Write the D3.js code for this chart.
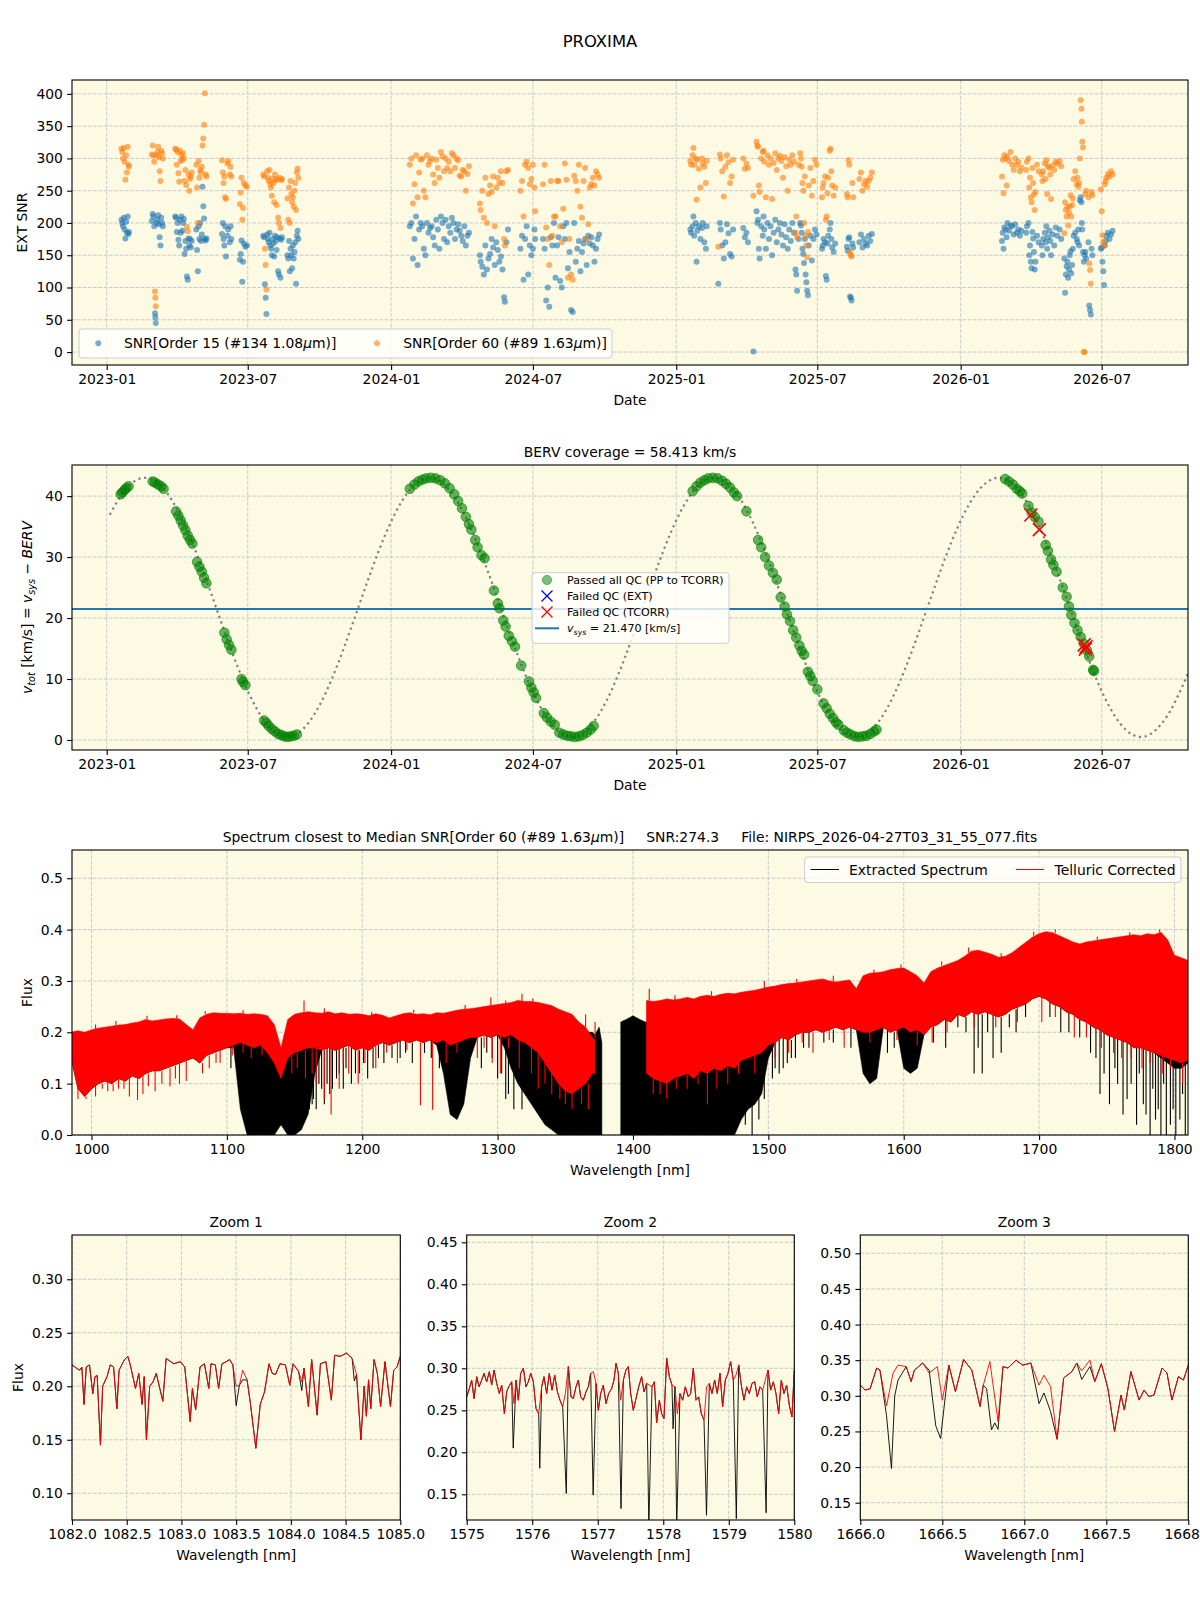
<!DOCTYPE html>
<html><head><meta charset="utf-8">
<script src="https://cdn.jsdelivr.net/npm/d3@7"></script>
<style>
body{margin:0;background:#fff}
svg text{font-family:"DejaVu Sans",sans-serif}
</style></head>
<body><svg id="c" width="1200" height="1600"></svg>
<script>
// ---------------- DATA ----------------
// dates are day offsets from 2023-01-01 (UTC)
const EPOCH = Date.UTC(2023,0,1);
const dateTickLabels = ["2023-01","2023-07","2024-01","2024-07","2025-01","2025-07","2026-01","2026-07"];
const snrTicks = [0,50,100,150,200,250,300,350,400];
const vtotTicks = [0,10,20,30,40];
const fluxTicks = [0.0,0.1,0.2,0.3,0.4,0.5];
const wlTicks = [1000,1100,1200,1300,1400,1500,1600,1700,1800];

// [day, SNR order 15, SNR order 60]
const snr2023 = [
[19,205,315],[20,200,310],[21,195,300],[22,208,316],[23,190,295],[24,176,267],[25,202,305],[26,185,278],[27,210,318],[28,183,290],[28.5,186,287],
[58,203,306],[59,214,320],[60,210,305],[61,195,295],[62,60,94],[62.5,54,84],[63,45,71],[64,200,305],[65,205,310],[66,212,318],[67,198,302],[68,178,280],[69,165,265],[70,208,312],[71,200,308],[72,195,300],
[88,210,315],[89,208,314],[90,186,290],[91,200,310],[92,174,277],[93,165,264],[94,205,312],[95,185,296],[96,210,305],[97,188,298],[98,200,308],[99,206,300],[100,152,265],[101,172,282],[102,160,259],[103,117,194],[104,112,187],[105,176,275],[106,165,250],[107,175,268],[108,162,272],[109,172,278],
[115,190,290],[116,158,255],[117,125,200],[118,195,296],[119,175,270],[120,200,282],[121,172,278],[122,182,287],[123,256,320],[124,226,331],[125,207,352],[126,175,401],[127,173,275],[128,176,272],
[148,183,297],[149,200,278],[150,175,262],[151,165,272],[152,195,240],[153,148,237],[155,180,292],[156,190,296],[158,170,275],[159,195,287],[160,175,272],
[171,143,229],[172,152,247],[173,173,270],[174,109,205],[175,140,223],[176,168,262],[178,163,258],[180,165,256],
[201,180,275],[202,178,272],[203,105,160],[204,84,135],[205,59,97],[206,182,280],[207,175,270],[208,170,265],[209,185,282],[210,165,260],[211,160,255],[212,150,242],[213,175,268],[214,168,262],[215,148,232],[216,180,275],[217,172,266],[218,158,228],
[219,178,268],[220,125,208],[221,120,200],[222,176,270],[223,115,192],[224,174,266],[225,178,268],
[232,150,238],[233,145,205],[234,172,255],[235,125,200],[236,160,265],[237,150,245],[238,130,232],[239,165,240],[240,145,225],[241,155,250],[242,170,262],[243,106,220],[244,180,278],[245,188,284],[246,175,270]
];
const snr2024 = [
[389,195,290],[391,200,300],[393,145,230],[395,175,260],[397,210,305],[399,135,240],[401,190,278],[403,200,298],[405,195,300],[407,160,250],
[409,150,240],[411,200,305],[413,185,290],[415,192,296],[417,195,300],[419,178,275],[421,165,262],[423,205,298],[425,190,285],[427,160,270],
[429,210,310],[431,200,303],[433,175,280],[435,205,300],[437,170,285],[439,195,295],[441,185,280],[443,208,308],[445,200,305],[447,175,285],
[449,190,300],[451,198,297],[453,188,273],[455,180,272],[457,172,282],[459,195,280],[461,165,250],[463,180,276],[465,185,288],
[479,150,230],[480,140,220],[482,132,250],[484,120,208],[486,165,270],[488,128,200],[490,145,245],[492,152,258],[494,175,248],[496,162,272],
[498,135,195],[500,170,255],[502,158,270],[504,140,262],[506,148,280],[508,128,262],[510,85,175],[511,78,165],[513,170,280],[515,190,282],
[531,160,250],[533,180,265],[535,112,210],[537,175,290],[539,195,295],[541,120,285],[543,165,260],[545,150,268],[547,160,290],[549,190,255],[550,175,218],
[560,175,260],[562,160,290],[564,80,193],[566,100,175],[568,70,135],[570,178,265],[572,165,180],[574,200,210],[576,115,210],[578,165,265],
[580,178,265],[582,110,195],[584,100,170],[586,195,222],[588,175,292],[590,200,267],[592,130,115],[594,155,175],[596,65,120],[598,62,112],
[600,200,273],[602,140,265],[604,160,250],[606,172,290],[608,125,225],[610,155,208],[612,168,265],[614,175,285],[616,135,175],[618,180,198],
[620,168,255],[622,178,260],[624,165,270],[626,140,258],[628,160,280],[630,175,275],[632,182,270]
];
const snr2025 = [
[749,190,296],[750,185,290],[752,195,305],[753,210,316],[754,180,290],[756,200,300],[757,140,236],[758,188,298],[760,195,284],[762,175,255],[764,192,300],[765,200,292],[767,170,287],[769,160,262],[770,195,296],
[785,106,163],[787,200,306],[788,190,300],[790,165,280],[792,145,241],[794,170,287],[796,198,305],[798,184,294],[800,152,262],[802,148,272],[804,190,298],
[817,192,300],[819,178,284],[821,185,292],[823,170,285],[830,1,242],
[834,218,326],[835,200,320],[836,205,318],[837,160,258],[838,145,248],[840,195,300],[842,180,310],[843,210,312],[844,190,295],[846,160,240],[848,200,305],[850,175,290],[852,195,300],[854,150,237],[856,185,293],[858,205,308],[860,170,282],[862,190,300],[864,200,304],[866,182,296],[868,165,270],[870,198,302],[872,178,288],[874,160,250],[876,190,298],[878,172,290],[880,200,305],[882,185,295],[884,128,185],[885,120,210],[886,95,178],[888,175,290],[890,200,308],
[891,196,300],[892,185,287],[893,160,262],[894,152,250],[895,138,200],[896,175,272],[897,120,180],[898,108,165],[899,95,147],[900,88,186],[901,165,258],[903,180,285],[905,142,242],[907,175,265],[909,190,298],[911,182,290],
[918,160,240],[919,165,255],[920,175,262],[922,170,272],[923,118,205],[924,112,210],[925,168,246],[926,180,270],[928,190,312],[929,200,315],[930,175,280],[931,162,258],[933,155,242],[935,168,255],
[950,163,245],[951,157,240],[952,175,297],[953,178,290],[954,86,155],[955,84,150],[956,80,148],[957,168,262],[958,162,240],
[966,170,268],[968,182,278],[970,162,250],[972,175,260],[974,168,265],[976,165,256],[978,180,265],[980,172,270],[982,183,278]
];
const snr2026 = [
[1149,172,272],[1150,185,298],[1151,160,246],[1152,193,305],[1154,190,300],[1155,178,258],[1156,200,303],[1158,188,296],[1160,196,310],[1162,195,290],[1164,182,282],[1166,198,300],[1168,185,290],[1170,190,295],[1172,180,280],[1174,188,286],
[1180,185,282],[1181,195,295],[1183,200,300],[1184,150,255],[1185,165,270],[1186,140,240],[1187,130,232],[1188,186,285],[1189,176,262],[1190,155,244],[1191,128,220],[1192,140,248],[1194,180,290],[1196,170,280],
[1200,165,275],[1201,150,265],[1202,175,280],[1204,185,292],[1205,170,268],[1206,195,297],[1207,160,245],[1208,178,288],[1210,188,285],[1211,172,275],[1212,150,237],[1214,182,289],[1216,165,282],[1218,193,295],[1220,180,292],[1223,190,296],[1225,175,288],
[1229,145,184],[1230,92,232],[1231,120,220],[1232,133,210],[1233,140,225],[1234,115,196],[1235,128,216],[1236,150,225],[1237,156,243],[1238,122,210],[1239,135,228],[1240,160,238],[1241,180,268],[1243,185,280],[1245,175,260],[1246,170,270],[1247,190,256],[1248,165,262],
[1249,235,300],[1250,240,390],[1251,232,377],[1251.5,200,357],[1252,190,326],[1253,155,317],[1254,140,0],[1255,150,0],[1256,155,245],[1257,145,250],
[1260,170,240],[1261,72,137],[1262,65,127],[1263,58,106],[1264,160,248],[1265,150,243],
[1276,160,252],[1277,162,218],[1278,140,181],[1279,125,170],[1280,104,165],[1281,165,260],[1282,172,265],[1283,180,270],[1285,185,276],[1287,175,272],[1289,182,280],[1291,188,275]
];

// BERV curve (dotted), [day, v_tot km/s]
const bervCurve = [
[4,36.95],[19,40.23],[34,42.30],[49,43.00],[64,42.30],[79,40.23],[94,36.95],[109,32.65],[124,27.63],[139,22.23],[154,16.79],[169,11.69],[184,7.24],[199,3.76],[214,1.47],[229,0.52],[244,0.98],[259,2.81],[274,5.90],[289,10.04],[304,14.95],[319,20.31],[334,25.77],[349,30.96],[364,35.54],[379,39.21],[394,41.72],[409,42.91],
[424,42.70],[439,41.10],[454,38.23],[469,34.25],[484,29.46],[499,24.15],[514,18.68],[529,13.42],[544,8.70],[559,4.86],[574,2.13],[589,0.70],[604,0.66],[619,2.02],[634,4.68],[649,8.47],[664,13.16],[679,18.40],[694,23.87],[709,29.20],[724,34.03],[739,38.06],[754,40.99],[769,42.65],[784,42.94],
[799,41.82],[814,39.37],[829,35.75],[844,31.21],[859,26.04],[874,20.59],[889,15.21],[904,10.27],[919,6.08],[934,2.94],[949,1.04],[964,0.51],[979,1.39],[994,3.62],[1009,7.04],[1024,11.44],[1039,16.52],[1054,21.95],[1069,27.37],[1084,32.41],[1099,36.75],[1114,40.10],[1129,42.22],[1144,43.00],
[1159,42.36],[1174,40.37],[1189,37.14],[1204,32.89],[1219,27.90],[1234,22.51],[1249,17.06],[1264,11.93],[1279,7.44],[1294,3.91],[1309,1.55],[1324,0.54],[1339,0.92],[1354,2.69],[1369,5.72],[1384,9.80],[1388,11.04]
];
// observations passing QC, [day, v_tot]
const bervPassed = [
[18,40.3],[20,40.6],[23,41.0],[25,41.3],[28,41.6],
[59,42.4],[62,42.2],[66,41.9],[70,41.6],[73,41.2],
[89,37.5],[92,36.8],[95,36.0],[98,35.2],[101,34.4],[104,33.5],[107,32.8],[110,32.2],
[116,29.2],[119,28.4],[122,27.6],[125,26.6],[128,25.7],
[151,17.6],[154,16.5],[157,15.6],[160,14.8],
[173,10.0],[175,9.5],[178,9.0],
[202,3.2],[205,2.8],[208,2.3],[212,1.8],[216,1.4],[220,1.0],[224,0.8],[228,0.6],[232,0.5],[236,0.6],[240,0.7],[244,0.9],
[389,41.2],[395,41.9],[400,42.4],[405,42.7],[410,42.9],[416,43.0],[422,42.9],[428,42.6],[434,42.1],[440,41.3],[446,40.3],[451,39.2],[456,38.0],[461,36.6],[465,35.4],[468,34.5],
[473,32.8],[476,31.6],[481,30.3],[485,29.8],[497,24.5],
[502,22.4],[504,21.6],[509,19.6],[512,18.6],[516,17.1],[520,16.2],[524,15.3],[532,12.2],
[542,9.6],[545,8.6],[548,7.8],[551,6.9],
[561,4.4],[565,3.7],[570,3.0],[575,2.5],
[581,1.2],[586,0.9],[591,0.7],[596,0.6],[601,0.5],[606,0.6],[611,0.8],[616,1.2],[621,1.7],[625,2.3],
[752,40.8],[757,41.6],[762,42.2],[767,42.6],[772,42.9],[778,43.0],[784,42.9],[790,42.5],[795,42.0],[800,41.4],[805,40.6],[809,40.0],[821,37.5],
[836,32.8],[840,31.6],[845,30.0],[850,28.6],[855,27.4],[860,26.3],[865,23.4],
[870,21.9],[873,20.6],[877,19.5],[881,18.0],[885,16.8],[889,15.5],[892,14.6],[895,14.0],
[900,11.2],[903,10.5],[906,9.7],[912,8.3],
[920,6.0],[924,5.2],[928,4.3],[932,3.6],[936,2.9],[939,2.5],
[946,1.6],[950,1.2],[955,0.9],[960,0.6],[965,0.5],[970,0.6],[975,0.7],[980,1.0],[985,1.4],[988,1.7],
[1153,42.8],[1158,42.4],[1163,41.9],[1168,41.2],[1172,40.8],[1175,40.4],
[1183,38.4],[1187,37.3],[1191,36.6],[1196,35.8],
[1205,32.0],[1208,31.0],[1212,29.6],[1215,28.7],[1219,27.6],
[1227,25.0],[1232,23.5],
[1235,21.9],[1238,20.5],[1242,19.2],[1246,18.0],[1250,16.9],[1254,15.8],[1258,14.7],[1261,13.7],
[1266,11.5],[1267,11.3]
];
const bervFailedTcorr = [[1186,36.9],[1197,34.5],[1254.5,15.6],[1256,14.9],[1257,15.3]];
const bervFailedExt = [];
const vsys = 21.470;
const bervCoverage = 58.413;

// Full spectrum envelope: [wavelength nm, telluricHi, telluricLo, extractedHi, extractedLo]
const spectrumEnvelope = [
[985,.200,.150,.195,.150],[990,.203,.090,.198,.090],[995,.200,.075,.195,.075],[1000,.205,.090,.200,.090],[1005,.208,.100,.203,.100],
[1010,.210,.105,.205,.105],[1015,.212,.100,.207,.100],[1020,.214,.110,.209,.110],[1025,.215,.105,.210,.105],[1030,.218,.115,.213,.115],
[1035,.220,.110,.215,.110],[1040,.225,.120,.220,.120],[1045,.222,.125,.217,.125],[1050,.224,.125,.219,.125],[1055,.226,.130,.221,.130],
[1060,.227,.135,.222,.135],[1065,.226,.140,.221,.140],[1070,.215,.145,.210,.145],[1075,.205,.150,.200,.150],[1080,.228,.140,.223,.140],
[1085,.235,.155,.230,.155],[1090,.238,.160,.233,.160],[1095,.237,.165,.232,.165],[1100,.237,.170,.232,.170],[1105,.236,.175,.231,.170],
[1110,.237,.180,.200,.050],[1115,.235,.175,.190,.000],[1120,.236,.170,.190,.000],[1125,.235,.175,.190,.000],[1130,.232,.160,.185,.000],
[1135,.215,.140,.180,.000],[1140,.170,.110,.160,.020],[1145,.225,.150,.200,.000],[1150,.235,.160,.205,.000],[1155,.238,.165,.205,.010],
[1160,.240,.170,.205,.040],[1165,.238,.170,.200,.120],[1170,.237,.165,.200,.165],[1175,.240,.170,.200,.170],[1180,.236,.165,.200,.165],
[1185,.238,.170,.200,.170],[1190,.235,.175,.200,.175],[1195,.236,.165,.200,.165],[1200,.235,.170,.200,.170],[1205,.232,.165,.200,.165],
[1210,.236,.175,.200,.175],[1215,.233,.180,.200,.180],[1220,.228,.175,.200,.175],[1225,.232,.180,.200,.180],[1230,.236,.185,.205,.185],
[1235,.238,.180,.205,.180],[1240,.235,.185,.205,.185],[1245,.236,.180,.205,.180],[1250,.234,.185,.205,.185],[1255,.238,.180,.205,.175],
[1260,.237,.185,.205,.120],[1265,.240,.175,.205,.040],[1270,.243,.180,.205,.030],[1275,.245,.185,.210,.060],[1280,.246,.190,.210,.150],
[1285,.248,.190,.215,.190],[1290,.250,.195,.215,.195],[1295,.252,.190,.220,.190],[1300,.254,.195,.220,.195],[1305,.256,.190,.220,.170],
[1310,.258,.195,.225,.130],[1315,.262,.185,.225,.100],[1320,.260,.180,.225,.080],[1325,.260,.170,.225,.060],[1330,.258,.160,.220,.040],
[1335,.255,.140,.220,.020],[1340,.252,.120,.215,.010],[1345,.245,.100,.215,.000],[1350,.240,.085,.210,.000],[1355,.235,.080,.210,.000],
[1360,.220,.090,.205,.000],[1365,.210,.100,.200,.000],[1370,.190,.120,.200,.000],[1372,.185,.120,.195,.000],
[1375,null,null,.210,.000],[1377,null,null,.180,.000],[1384,null,null,null,null],[1391,null,null,.220,.000],[1395,null,null,.225,.000],
[1400,null,null,.232,.000],[1405,null,null,.225,.000],[1409,null,null,.220,.000],
[1410,.262,.120,.220,.000],[1415,.260,.110,.220,.000],[1420,.262,.105,.220,.000],[1425,.265,.100,.225,.000],[1430,.263,.110,.225,.000],
[1435,.265,.115,.225,.000],[1440,.268,.120,.230,.000],[1445,.265,.110,.230,.000],[1450,.270,.125,.230,.000],[1455,.272,.120,.230,.000],
[1460,.270,.130,.235,.000],[1465,.274,.125,.235,.000],[1470,.276,.135,.235,.000],[1475,.275,.130,.240,.000],[1480,.278,.145,.240,.030],
[1485,.280,.150,.240,.050],[1490,.282,.155,.245,.060],[1495,.285,.160,.245,.080],[1500,.288,.175,.250,.150],[1505,.290,.180,.250,.180],
[1510,.293,.190,.255,.190],[1515,.295,.185,.255,.185],[1520,.296,.195,.260,.195],[1525,.298,.200,.260,.200],[1530,.300,.200,.260,.200],
[1535,.302,.205,.265,.205],[1540,.304,.200,.265,.200],[1545,.300,.205,.265,.205],[1550,.298,.210,.265,.210],[1555,.300,.205,.265,.205],
[1560,.302,.210,.265,.210],[1565,.285,.205,.260,.205],[1570,.310,.200,.260,.120],[1575,.315,.200,.265,.100],[1580,.316,.205,.265,.110],
[1585,.318,.210,.270,.210],[1590,.322,.200,.270,.200],[1595,.324,.205,.275,.205],[1600,.325,.210,.275,.130],[1605,.318,.200,.275,.120],
[1610,.310,.205,.270,.130],[1615,.296,.195,.265,.195],[1620,.318,.210,.270,.210],[1625,.325,.215,.275,.215],[1630,.330,.225,.280,.225],
[1635,.335,.220,.285,.220],[1640,.340,.235,.290,.235],[1645,.348,.230,.295,.230],[1650,.358,.240,.300,.240],[1655,.360,.235,.300,.235],
[1660,.356,.240,.300,.240],[1665,.352,.235,.300,.235],[1670,.346,.230,.300,.230],[1675,.348,.235,.300,.235],[1680,.355,.245,.305,.245],
[1685,.365,.250,.310,.250],[1690,.375,.255,.320,.255],[1695,.385,.265,.330,.265],[1700,.392,.270,.340,.270],[1705,.396,.265,.340,.265],
[1710,.394,.255,.335,.255],[1715,.388,.250,.330,.250],[1720,.382,.240,.325,.240],[1725,.376,.235,.320,.235],[1730,.372,.225,.315,.225],
[1735,.376,.220,.315,.220],[1740,.378,.210,.315,.210],[1745,.380,.205,.315,.205],[1750,.382,.195,.315,.195],[1755,.384,.190,.315,.190],
[1760,.386,.185,.315,.185],[1765,.388,.180,.315,.180],[1770,.390,.170,.315,.170],[1775,.388,.170,.315,.170],[1780,.392,.165,.315,.165],
[1785,.390,.160,.315,.160],[1790,.395,.155,.315,.150],[1795,.380,.150,.310,.140],[1800,.350,.145,.300,.130],[1805,.345,.140,.295,.130],
[1810,.340,.145,.290,.140]
];
// individual spikes [wavelength, from, to]
const telluricSpikes = [
[1003,.10,.075],[1012,.105,.085],[1020,.11,.09],[1028,.11,.075],[1034,.11,.068],[1038,.12,.08],[1047,.125,.085],[1052,.125,.10],[1058,.13,.095],
[1065,.14,.10],[1070,.145,.105],[1087,.155,.13],[1095,.165,.14],[1148,.155,.12],[1158,.165,.11],[1166,.17,.10],[1172,.165,.07],[1177,.17,.04],
[1183,.17,.09],[1190,.175,.12],[1197,.165,.10],[1210,.175,.13],[1226,.18,.14],[1243,.18,.058],[1252,.185,.049],[1262,.18,.14],[1285,.19,.15],
[1296,.19,.14],[1302,.195,.12],[1316,.185,.13],[1330,.16,.09],[1340,.12,.08],[1355,.08,.05],[1362,.09,.06],[1367,.10,.05],[1415,.11,.08],
[1425,.10,.07],[1440,.12,.09],[1455,.12,.06],[1462,.13,.09],[1470,.135,.10],[1490,.155,.12],[1515,.185,.16],[1533,.2,.16],[1556,.205,.17],
[1621,.21,.18],[1702,.27,.22],[1726,.235,.19],[1746,.205,.17],[1761,.185,.15],[1776,.17,.13],[1791,.155,.12],[1806,.14,.10],
[990,.09,.07],[996,.075,.07],[1008,.10,.09],[1016,.10,.085],[1024,.105,.09],[1042,.12,.095],[1062,.135,.11],[1082,.14,.12],[1092,.16,.14],
[1104,.175,.155],[1112,.18,.16],[1118,.175,.15],[1126,.175,.155],[1152,.16,.13],[1163,.17,.12],[1186,.17,.14],[1202,.17,.14],[1218,.18,.16],
[1233,.185,.165],[1270,.18,.16],[1290,.195,.17],[1308,.19,.17],[1325,.17,.12],[1335,.14,.10],[1346,.10,.07],[1350,.085,.06],[1420,.105,.08],
[1432,.11,.09],[1448,.12,.10],[1478,.14,.12],[1505,.18,.15],[1525,.2,.18],[1545,.205,.185],[1575,.2,.18],[1595,.205,.185],[1610,.205,.175],
[1632,.225,.2],[1652,.24,.21],[1668,.235,.21],[1684,.25,.22],[1712,.255,.23],[1735,.22,.19],[1755,.19,.16],[1768,.175,.15],[1782,.165,.14],[1797,.15,.13],
[1157,.24,.262],[1295,.252,.268],[1318,.26,.275],[1372,.19,.22],[1365,.21,.235],[1412,.262,.285],[1497,.285,.30],
[1003,.205,.215],[1018,.214,.222],[1041,.225,.232],[1063,.227,.233],[1084,.235,.241],[1112,.237,.243],[1172,.238,.247],[1207,.232,.24],
[1238,.238,.244],[1276,.245,.253],[1306,.256,.262],[1326,.26,.266],[1431,.263,.272],[1458,.272,.28],[1521,.296,.304],[1548,.3,.31],
[1578,.315,.322],[1598,.324,.332],[1628,.33,.338],[1648,.355,.365],[1672,.346,.354],[1696,.388,.396],[1712,.394,.40],[1743,.38,.386],
[1767,.388,.395],[1789,.395,.40]
];
const extractedSpikes = [
[1103,.175,.13],[1163,.17,.06],[1168,.17,.10],[1176,.17,.08],[1181,.165,.11],[1186,.17,.09],[1192,.175,.10],[1198,.165,.12],[1204,.165,.11],
[1216,.18,.14],[1228,.185,.15],[1237,.18,.14],[1257,.18,.13],[1288,.19,.13],[1300,.195,.11],[1306,.19,.07],[1312,.19,.05],[1318,.185,.05],
[1483,.15,.02],[1488,.155,.0],[1493,.16,.03],[1497,.16,.07],[1503,.18,.11],[1511,.19,.13],[1517,.185,.15],[1526,.2,.17],[1541,.2,.18],
[1561,.21,.17],[1588,.21,.16],[1631,.225,.17],[1646,.23,.2],[1652,.24,.12],[1658,.235,.12],[1666,.235,.15],[1672,.23,.16],[1683,.245,.2],
[1716,.25,.2],[1738,.22,.16],[1748,.2,.12],[1752,.195,.06],[1758,.19,.10],[1762,.185,.04],[1768,.18,.10],[1772,.17,.02],[1777,.17,.06],
[1782,.165,.0],[1786,.16,.03],[1790,.155,.0],[1794,.15,.0],[1797,.15,.02],[1801,.145,.0],[1804,.14,.03],[1808,.145,.0],
[1161,.17,.05],[1164,.17,.07],[1166,.17,.05],[1170,.165,.09],[1172,.165,.06],[1174,.17,.10],[1178,.17,.09],[1183,.17,.12],[1188,.17,.13],
[1195,.165,.12],[1201,.17,.14],[1208,.17,.13],[1212,.175,.15],[1222,.175,.15],[1232,.185,.16],[1246,.18,.16],[1251,.185,.15],[1292,.195,.16],
[1296,.19,.15],[1303,.195,.12],[1308,.19,.08],[1505,.18,.13],[1508,.185,.12],[1514,.185,.14],[1520,.195,.15],[1530,.2,.17],[1548,.205,.18],
[1593,.2,.17],[1622,.21,.18],[1640,.235,.21],[1655,.235,.17],[1662,.24,.2],[1678,.235,.21],[1690,.255,.23],[1708,.26,.23],[1722,.24,.2],
[1730,.225,.19],[1742,.21,.15],[1745,.205,.08],[1756,.19,.13],[1765,.18,.07],[1774,.17,.12],[1779,.165,.04],[1784,.16,.09],[1788,.16,.05],
[1792,.155,.10],[1799,.145,.05],[1806,.14,.08]
];

// Zoom 1 (telluric corrected) [wl, flux]
const zoom1Telluric = [
[1082.00,.220],[1082.04,.217],[1082.07,.215],[1082.09,.218],[1082.11,.183],[1082.13,.218],[1082.16,.220],[1082.19,.193],[1082.21,.209],[1082.23,.210],
[1082.26,.145],[1082.28,.200],[1082.32,.209],[1082.35,.220],[1082.38,.218],[1082.41,.179],[1082.43,.215],[1082.48,.225],[1082.51,.228],[1082.53,.221],
[1082.55,.212],[1082.58,.198],[1082.61,.212],[1082.64,.183],[1082.66,.209],[1082.68,.150],[1082.71,.200],[1082.74,.204],[1082.77,.212],[1082.83,.186],
[1082.86,.226],[1082.93,.221],[1082.99,.223],[1083.03,.218],[1083.08,.167],[1083.10,.198],[1083.13,.178],[1083.17,.218],[1083.21,.221],[1083.25,.198],
[1083.27,.221],[1083.31,.220],[1083.34,.198],[1083.37,.221],[1083.41,.223],[1083.44,.225],[1083.47,.220],[1083.50,.200],[1083.53,.201],[1083.56,.215],
[1083.60,.206],[1083.63,.184],[1083.68,.142],[1083.72,.183],[1083.76,.195],[1083.80,.221],[1083.83,.212],[1083.86,.211],[1083.90,.221],[1083.95,.220],
[1083.99,.201],[1084.02,.221],[1084.07,.214],[1084.10,.204],[1084.12,.217],[1084.16,.181],[1084.19,.225],[1084.24,.173],[1084.27,.221],[1084.32,.223],
[1084.37,.187],[1084.40,.229],[1084.45,.228],[1084.51,.231],[1084.56,.226],[1084.60,.211],[1084.64,.150],[1084.67,.200],[1084.69,.172],[1084.71,.206],
[1084.73,.179],[1084.76,.225],[1084.79,.212],[1084.82,.181],[1084.86,.223],[1084.91,.181],[1084.94,.215],[1084.97,.218],[1085.00,.228]
];
const zoom1ExtractedDiff = [[1083.50,.182],[1083.56,.206],[1084.10,.196],[1084.58,.205]];

const zoom2Telluric = [
[1575.000,.266],[1575.041,.276],[1575.076,.286],[1575.112,.264],[1575.153,.290],[1575.188,.278],[1575.229,.286],[1575.264,.294],[1575.305,.284],[1575.346,.296],
[1575.381,.280],[1575.417,.298],[1575.458,.282],[1575.498,.270],[1575.534,.280],[1575.575,.246],[1575.610,.272],[1575.641,.278],[1575.687,.284],[1575.722,.258],
[1575.753,.286],[1575.788,.262],[1575.824,.294],[1575.865,.300],[1575.905,.278],[1575.941,.284],[1575.977,.294],[1576.017,.284],[1576.058,.252],[1576.099,.246],
[1576.144,.278],[1576.180,.290],[1576.221,.270],[1576.261,.294],[1576.302,.274],[1576.343,.292],[1576.384,.272],[1576.424,.262],[1576.465,.254],[1576.506,.270],
[1576.551,.302],[1576.592,.266],[1576.628,.264],[1576.668,.278],[1576.704,.286],[1576.740,.266],[1576.780,.262],[1576.821,.272],[1576.857,.278],[1576.892,.294],
[1576.933,.296],[1576.974,.282],[1577.009,.250],[1577.045,.270],[1577.085,.280],[1577.126,.258],[1577.167,.270],[1577.213,.276],[1577.248,.286],[1577.279,.306],
[1577.314,.294],[1577.350,.262],[1577.391,.286],[1577.431,.298],[1577.467,.302],[1577.503,.270],[1577.543,.250],[1577.584,.264],[1577.625,.278],[1577.670,.290],
[1577.706,.272],[1577.747,.282],[1577.787,.280],[1577.828,.278],[1577.864,.284],[1577.899,.235],[1577.940,.262],[1577.976,.246],[1578.011,.240],[1578.052,.312],
[1578.093,.290],[1578.133,.280],[1578.179,.278],[1578.215,.246],[1578.255,.270],[1578.296,.262],[1578.337,.278],[1578.382,.266],[1578.418,.270],[1578.459,.300],
[1578.500,.262],[1578.540,.266],[1578.581,.246],[1578.622,.238],[1578.662,.278],[1578.703,.282],[1578.744,.270],[1578.784,.286],[1578.825,.270],[1578.866,.294],
[1578.906,.254],[1578.947,.286],[1578.988,.294],[1579.028,.308],[1579.069,.286],[1579.110,.292],[1579.151,.304],[1579.191,.280],[1579.232,.262],[1579.273,.278],
[1579.313,.270],[1579.354,.282],[1579.395,.284],[1579.435,.266],[1579.476,.278],[1579.517,.274],[1579.557,.286],[1579.598,.298],[1579.639,.274],[1579.680,.284],
[1579.720,.270],[1579.761,.246],[1579.802,.286],[1579.842,.270],[1579.883,.280],[1579.924,.256],[1579.964,.242],[1580.000,.298]
];
const zoom2ExtractedDiff = [[1575.710,.205],[1576.115,.181],[1576.520,.151],[1576.930,.149],[1577.355,.133],[1577.780,.110],[1578.205,.110],[1578.660,.125],[1579.115,.121],[1579.570,.128],[1578.150,.228]];

const zoom3Telluric = [
[1666.00,.315],[1666.03,.308],[1666.06,.310],[1666.10,.339],[1666.12,.336],[1666.16,.286],[1666.20,.332],[1666.23,.343],[1666.28,.341],[1666.31,.320],
[1666.33,.336],[1666.38,.346],[1666.42,.332],[1666.47,.341],[1666.50,.294],[1666.54,.343],[1666.58,.306],[1666.63,.351],[1666.68,.336],[1666.73,.285],
[1666.75,.315],[1666.79,.348],[1666.84,.264],[1666.87,.341],[1666.90,.339],[1666.95,.350],[1666.99,.343],[1667.04,.346],[1667.09,.315],[1667.12,.329],
[1667.16,.313],[1667.20,.239],[1667.24,.325],[1667.29,.334],[1667.32,.346],[1667.35,.335],[1667.40,.350],[1667.43,.320],[1667.47,.345],[1667.51,.310],
[1667.55,.250],[1667.59,.301],[1667.61,.280],[1667.65,.334],[1667.70,.294],[1667.73,.308],[1667.76,.299],[1667.79,.301],[1667.84,.339],[1667.87,.332],
[1667.90,.294],[1667.94,.327],[1667.97,.322],[1668.00,.343]
];
const zoom3ExtractedDiff = [[1666.16,.272],[1666.19,.198],[1666.21,.300],[1666.23,.322],[1666.42,.336],[1666.46,.258],[1666.49,.240],[1666.50,.262],
[1666.77,.310],[1666.80,.252],[1666.82,.262],[1666.84,.253],[1667.09,.289],[1667.12,.304],[1667.16,.278],[1667.35,.323],[1667.40,.341]];

const zoom1XTicks = [1082.0,1082.5,1083.0,1083.5,1084.0,1084.5,1085.0];
const zoom1YTicks = [0.10,0.15,0.20,0.25,0.30];
const zoom2XTicks = [1575,1576,1577,1578,1579,1580];
const zoom2YTicks = [0.15,0.20,0.25,0.30,0.35,0.40,0.45];
const zoom3XTicks = [1666.0,1666.5,1667.0,1667.5,1668.0];
const zoom3YTicks = [0.15,0.20,0.25,0.30,0.35,0.40,0.45,0.50];

// ---------------- DRAWING ----------------
const svg = d3.select("#c");
const BG = "#fcfae2";
const FS = 13.9;
const BLUE = "#1f77b4", ORANGE = "#ff7f0e";
const dayDate = d => new Date(EPOCH + d*864e5);
const parseTick = d3.utcParse("%Y-%m");
const dateTicks = dateTickLabels.map(parseTick);
const fmtDate = d3.utcFormat("%Y-%m");
let clipN = 0;
const defs = svg.append("defs");

function axes(box, x, y, xt, yt, xf, yf){
  const g = svg.append("g");
  g.append("rect").attr("x",box.l).attr("y",box.t).attr("width",box.r-box.l).attr("height",box.b-box.t).attr("fill",BG);
  const grid = g.append("g").attr("stroke","#c4c4cc").attr("stroke-width",0.9).attr("stroke-dasharray","3.7,1.6").attr("fill","none");
  xt.forEach(t=>{const px=x(t); if(px>=box.l-0.5&&px<=box.r+0.5) grid.append("line").attr("x1",px).attr("x2",px).attr("y1",box.t).attr("y2",box.b);});
  yt.forEach(t=>{const py=y(t); if(py>=box.t-0.5&&py<=box.b+0.5) grid.append("line").attr("y1",py).attr("y2",py).attr("x1",box.l).attr("x2",box.r);});
  const cid = "clip"+(clipN++);
  defs.append("clipPath").attr("id",cid).append("rect").attr("x",box.l).attr("y",box.t).attr("width",box.r-box.l).attr("height",box.b-box.t);
  const plot = svg.append("g").attr("clip-path",`url(#${cid})`);
  function finish(){
    const ax = svg.append("g").attr("transform",`translate(0,${box.b})`)
      .call(d3.axisBottom(x).tickValues(xt).tickFormat(xf).tickSize(4.9).tickPadding(4.2));
    const ay = svg.append("g").attr("transform",`translate(${box.l},0)`)
      .call(d3.axisLeft(y).tickValues(yt).tickFormat(yf).tickSize(4.9).tickPadding(4.2));
    [ax,ay].forEach(a=>{
      a.attr("font-size",FS).attr("font-family","DejaVu Sans");
      a.select(".domain").remove();
      a.selectAll(".tick line").attr("stroke","#000").attr("stroke-width",1.1);
      a.selectAll(".tick text").attr("fill","#000");
    });
    svg.append("rect").attr("x",box.l).attr("y",box.t).attr("width",box.r-box.l).attr("height",box.b-box.t)
      .attr("fill","none").attr("stroke","#000").attr("stroke-width",1.1);
  }
  return {plot, finish};
}
function text(x,y,s,opt={}){
  const t = svg.append("text").attr("x",x).attr("y",y).attr("font-size",opt.size||FS)
    .attr("text-anchor",opt.anchor||"middle").attr("fill","#000").text(s);
  if(opt.rotate) t.attr("transform",`rotate(-90,${x},${y})`);
  return t;
}

// Title
text(600,46.5,"PROXIMA",{size:16.4});

// ---------- Panel 1: SNR ----------
const P1 = {l:72,r:1188,t:80,b:365};
const xT1 = d3.scaleUtc().domain([dayDate(-44.53), dayDate(1387.75)]).range([P1.l,P1.r]);
const y1 = d3.scaleLinear().domain([-20.07,421.5]).range([P1.b,P1.t]);
const a1 = axes(P1,xT1,y1,dateTicks,snrTicks,fmtDate,d3.format("d"));
const allSnr = snr2023.concat(snr2024,snr2025,snr2026);
const MR = 3.0, MO = 0.6;
a1.plot.append("g").selectAll("circle").data(allSnr).join("circle")
  .attr("cx",d=>xT1(dayDate(d[0]))).attr("cy",d=>y1(d[1])).attr("r",MR).attr("fill",BLUE).attr("fill-opacity",MO);
a1.plot.append("g").selectAll("circle").data(allSnr).join("circle")
  .attr("cx",d=>xT1(dayDate(d[0]))).attr("cy",d=>y1(d[2])).attr("r",MR).attr("fill",ORANGE).attr("fill-opacity",MO);
a1.finish();
text(21.7,222.5,"EXT SNR",{rotate:true}).attr("dy","0.35em");
text(630,405,"Date");
// legend 1
svg.append("rect").attr("x",79).attr("y",329).attr("width",533).attr("height",29).attr("rx",3)
  .attr("fill","#fff").attr("fill-opacity",0.8).attr("stroke","#ccc").attr("stroke-width",1);
svg.append("circle").attr("cx",98.3).attr("cy",343.3).attr("r",MR).attr("fill",BLUE).attr("fill-opacity",MO);
svg.append("circle").attr("cx",377).attr("cy",343.3).attr("r",MR).attr("fill",ORANGE).attr("fill-opacity",MO);
function snrLabel(x,s1,s2){
  const t = text(x,348.3,"",{anchor:"start"});
  t.append("tspan").text(s1);
  t.append("tspan").attr("font-style","italic").text("μ");
  t.append("tspan").text(s2);
}
snrLabel(124,"SNR[Order 15 (#134 1.08","m)]");
snrLabel(403.3,"SNR[Order 60 (#89 1.63","m)]");

// ---------- Panel 2: BERV ----------
const P2 = {l:72,r:1188,t:465,b:750};
const y2 = d3.scaleLinear().domain([-1.64,45.1]).range([P2.b,P2.t]);
const a2 = axes(P2,xT1,y2,dateTicks,vtotTicks,fmtDate,d3.format("d"));
a2.plot.append("path").datum(bervCurve)
  .attr("d",d3.line().curve(d3.curveNatural).x(d=>xT1(dayDate(d[0]))).y(d=>y2(d[1])))
  .attr("fill","none").attr("stroke","#808080").attr("stroke-width",2.2).attr("stroke-dasharray","2.2,3.6");
a2.plot.append("line").attr("x1",P2.l).attr("x2",P2.r).attr("y1",y2(vsys)).attr("y2",y2(vsys))
  .attr("stroke",BLUE).attr("stroke-width",2);
a2.plot.append("g").selectAll("circle").data(bervPassed).join("circle")
  .attr("cx",d=>xT1(dayDate(d[0]))).attr("cy",d=>y2(d[1])).attr("r",4.8)
  .attr("fill","green").attr("fill-opacity",0.6).attr("stroke","green").attr("stroke-opacity",0.6).attr("stroke-width",1);
function xMark(g,cx,cy,h,color,w){
  g.append("path").attr("d",`M${cx-h},${cy-h}L${cx+h},${cy+h}M${cx-h},${cy+h}L${cx+h},${cy-h}`)
    .attr("stroke",color).attr("stroke-width",w).attr("fill","none");
}
bervFailedExt.forEach(d=>xMark(a2.plot,xT1(dayDate(d[0])),y2(d[1]),6.5,"blue",1.5));
bervFailedTcorr.forEach(d=>xMark(a2.plot,xT1(dayDate(d[0])),y2(d[1]),6.5,"red",1.6));
a2.finish();
text(630,457,`BERV coverage = ${bervCoverage.toFixed(3)} km/s`);
text(630,790,"Date");
{
  const t = text(26.8,607.5,"",{rotate:true}).attr("dy","0.35em");
  t.append("tspan").attr("font-style","italic").text("v");
  t.append("tspan").attr("font-style","italic").attr("font-size",9.7).attr("dy",3).text("tot");
  t.append("tspan").attr("dy",-3).text(" [km/s] = ");
  t.append("tspan").attr("font-style","italic").text("v");
  t.append("tspan").attr("font-style","italic").attr("font-size",9.7).attr("dy",3).text("sys");
  t.append("tspan").attr("dy",-3).text(" − ");
  t.append("tspan").attr("font-style","italic").text("BERV");
}
{
  svg.append("rect").attr("x",532).attr("y",572.7).attr("width",197).attr("height",70.6).attr("rx",3)
    .attr("fill","#fff").attr("fill-opacity",0.8).attr("stroke","#ccc").attr("stroke-width",1);
  const LF = 11.1;
  svg.append("circle").attr("cx",547).attr("cy",580).attr("r",4.6).attr("fill","green").attr("fill-opacity",0.5)
    .attr("stroke","green").attr("stroke-opacity",0.5);
  xMark(svg,547,596,5.5,"blue",1.3);
  xMark(svg,547,612,5.5,"red",1.3);
  svg.append("line").attr("x1",535).attr("x2",559).attr("y1",628.3).attr("y2",628.3).attr("stroke",BLUE).attr("stroke-width",2);
  text(567,584,"Passed all QC (PP to TCORR)",{anchor:"start",size:LF});
  text(567,600,"Failed QC (EXT)",{anchor:"start",size:LF});
  text(567,616,"Failed QC (TCORR)",{anchor:"start",size:LF});
  const t = text(567,632,"",{anchor:"start",size:LF});
  t.append("tspan").attr("font-style","italic").text("v");
  t.append("tspan").attr("font-style","italic").attr("font-size",7.8).attr("dy",2.5).text("sys");
  t.append("tspan").attr("dy",-2.5).text(` = ${vsys.toFixed(3)} [km/s]`);
}

// ---------- Panel 3: Spectrum ----------
const P3 = {l:72,r:1188,t:850,b:1135};
const x3 = d3.scaleLinear().domain([985.6,1810]).range([P3.l,P3.r]);
const y3 = d3.scaleLinear().domain([0,0.555]).range([P3.b,P3.t]);
const a3 = axes(P3,x3,y3,wlTicks,fluxTicks,d3.format("d"),d3.format(".1f"));
const areaExt = d3.area().defined(d=>d[3]!=null).x(d=>x3(d[0])).y0(d=>y3(d[4])).y1(d=>y3(d[3]));
const areaTel = d3.area().defined(d=>d[1]!=null).x(d=>x3(d[0])).y0(d=>y3(d[2])).y1(d=>y3(d[1]));
a3.plot.append("path").datum(spectrumEnvelope).attr("d",areaExt).attr("fill","#000").attr("stroke","#000").attr("stroke-width",0.6);
a3.plot.append("g").selectAll("line").data(extractedSpikes).join("line")
  .attr("x1",d=>x3(d[0])).attr("x2",d=>x3(d[0])).attr("y1",d=>y3(d[1])).attr("y2",d=>y3(d[2])).attr("stroke","#000").attr("stroke-width",1.1);
a3.plot.append("path").datum(spectrumEnvelope).attr("d",areaTel).attr("fill","#ff0000").attr("stroke","#ff0000").attr("stroke-width",0.6);
a3.plot.append("g").selectAll("line").data(telluricSpikes).join("line")
  .attr("x1",d=>x3(d[0])).attr("x2",d=>x3(d[0])).attr("y1",d=>y3(d[1])).attr("y2",d=>y3(d[2])).attr("stroke","#ff0000").attr("stroke-width",1.1);
a3.finish();
{
  const t = text(630,842,"").style("white-space","pre");
  t.append("tspan").text("Spectrum closest to Median SNR[Order 60 (#89 1.63");
  t.append("tspan").attr("font-style","italic").text("μ");
  t.append("tspan").text("m)]     SNR:274.3     File: NIRPS_2026-04-27T03_31_55_077.fits");
}
text(26.8,992.5,"Flux",{rotate:true}).attr("dy","0.35em");
text(630,1175,"Wavelength [nm]");
svg.append("rect").attr("x",804.7).attr("y",857).attr("width",376.3).attr("height",25.5).attr("rx",3)
  .attr("fill","#fff").attr("fill-opacity",0.8).attr("stroke","#ccc").attr("stroke-width",1);
svg.append("line").attr("x1",810.5).attr("x2",839).attr("y1",869.5).attr("y2",869.5).attr("stroke","#000").attr("stroke-width",1);
svg.append("line").attr("x1",1016).attr("x2",1044).attr("y1",869.5).attr("y2",869.5).attr("stroke","#ff0000").attr("stroke-width",1);
text(849,874.5,"Extracted Spectrum",{anchor:"start"});
text(1054.6,874.5,"Telluric Corrected",{anchor:"start"});

// ---------- Zoom panels ----------
function mergeDiff(base, diff){
  const kept = base.filter(p=>!diff.some(q=>Math.abs(q[0]-p[0])<0.015));
  return kept.concat(diff).sort((a,b)=>a[0]-b[0]);
}
function zoomPanel(box, xd, yd, xt, yt, xf, red, diff, title){
  const x = d3.scaleLinear().domain(xd).range([box.l,box.r]);
  const y = d3.scaleLinear().domain(yd).range([box.b,box.t]);
  const a = axes(box,x,y,xt,yt,xf,d3.format(".2f"));
  const line = d3.line().x(d=>x(d[0])).y(d=>y(d[1]));
  a.plot.append("path").datum(mergeDiff(red,diff)).attr("d",line).attr("fill","none").attr("stroke","#000").attr("stroke-width",0.9);
  a.plot.append("path").datum(red).attr("d",line).attr("fill","none").attr("stroke","#ff0000").attr("stroke-width",0.9);
  a.finish();
  const cx = (box.l+box.r)/2;
  text(cx,1227,title);
  text(cx,1560,"Wavelength [nm]");
}
zoomPanel({l:72,r:400.3,t:1235,b:1520},[1082,1085],[0.075,0.3414],zoom1XTicks,zoom1YTicks,d3.format(".1f"),zoom1Telluric,zoom1ExtractedDiff,"Zoom 1");
zoomPanel({l:466.7,r:794.3,t:1235,b:1520},[1575,1580],[0.1194,0.4587],zoom2XTicks,zoom2YTicks,d3.format("d"),zoom2Telluric,zoom2ExtractedDiff,"Zoom 2");
zoomPanel({l:860.3,r:1188.3,t:1235,b:1520},[1666,1668],[0.1257,0.5257],zoom3XTicks,zoom3YTicks,d3.format(".1f"),zoom3Telluric,zoom3ExtractedDiff,"Zoom 3");
text(18.3,1377.5,"Flux",{rotate:true}).attr("dy","0.35em");
</script></body></html>
